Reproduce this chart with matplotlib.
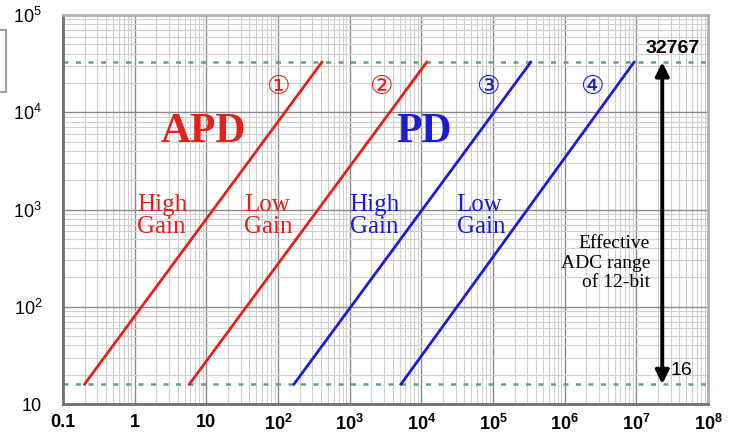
import matplotlib.pyplot as plt
from matplotlib.patches import Rectangle

# start / end of each gain range (input signal vs ADC count)
x_start = [0.2, 5.8, 167, 5200]
x_end = [410, 11900, 337000, 9.3e6]
y_low = 16
y_high = 32767
colors = ['#e32119', '#e32119', '#1c1cd2', '#1c1cd2']
circled = ['①', '②', '③', '④']
circ_x = [100, 2700, 85000, 2.4e6]
gain_labels = ['High\nGain', 'Low\nGain', 'High\nGain', 'Low\nGain']
gain_x = [1.07, 34, 1000, 31000]
arrow_x = 2.3e7

xticks = [0.1, 1, 10, 1e2, 1e3, 1e4, 1e5, 1e6, 1e7, 1e8]
xticklabels = ['0.1', '1', '10', r'$\mathbf{10^2}$', r'$\mathbf{10^3}$', r'$\mathbf{10^4}$',
               r'$\mathbf{10^5}$', r'$\mathbf{10^6}$', r'$\mathbf{10^7}$', r'$\mathbf{10^8}$']
yticks = [10, 1e2, 1e3, 1e4, 1e5]
yticklabels = ['10', '$10^2$', '$10^3$', '$10^4$', '$10^5$']

plt.rcParams['font.family'] = ['Liberation Sans', 'DejaVu Sans']
plt.rcParams['mathtext.fontset'] = 'custom'
plt.rcParams['mathtext.rm'] = 'Liberation Sans'
plt.rcParams['mathtext.bf'] = 'Liberation Sans:bold'
plt.rcParams['mathtext.default'] = 'regular'

fig = plt.figure(figsize=(7.3, 4.4), dpi=100)
ax = fig.add_axes([63/730, 1-404/440, 645/730, 389/440])
ax.set_xscale('log')
ax.set_yscale('log')
ax.set_xlim(0.1, 1e8)
ax.set_ylim(10, 1e5)

ax.grid(True, which='major', color='#8a8a8a', lw=1.0)
ax.grid(True, which='minor', color='#d0d0d0', lw=0.8)
ax.set_axisbelow(True)
for s in ['left', 'bottom']:
    ax.spines[s].set_color('#707070')
    ax.spines[s].set_linewidth(2)
for s in ['top', 'right']:
    ax.spines[s].set_color('#b0b0b0')
    ax.spines[s].set_linewidth(2)

ax.set_xticks(xticks)
ax.set_xticklabels(xticklabels, fontsize=13, fontweight='bold')
ax.set_yticks(yticks)
ax.set_yticklabels(yticklabels, fontsize=13)
ax.tick_params(which='both', length=0)
ax.tick_params(axis='x', pad=7)
ax.tick_params(axis='y', pad=15)

# ADC range limits
for yv in [y_low, y_high]:
    ax.axhline(yv, color='#5fa585', lw=1.8, ls=(0, (2, 3)), zorder=2)

for i in range(4):
    ax.plot([x_start[i], x_end[i]], [y_low, y_high], color=colors[i], lw=2, zorder=3)
    ax.text(circ_x[i], 18000, circled[i], color=colors[i], fontsize=19,
            ha='center', va='center', family=['DejaVu Sans', 'Noto Sans CJK JP'])
    ax.text(gain_x[i], 850, gain_labels[i], color=colors[i], fontsize=18,
            ha='left', va='center', family='Liberation Serif', linespacing=1.0)

ax.text(9.1, 6200, 'APD', color='#e32119', fontsize=30, fontweight='bold',
        ha='center', va='center', family='Liberation Serif')
ax.text(11000, 6200, 'PD', color='#1c1cd2', fontsize=30, fontweight='bold',
        ha='center', va='center', family='Liberation Serif')

ax.annotate('', xy=(arrow_x, y_high), xytext=(arrow_x, y_low),
            arrowprops=dict(arrowstyle='<|-|>', color='black', lw=2.8, mutation_scale=20,
                            shrinkA=0, shrinkB=0), zorder=4)
ax.text(3.2e7, 45000, '32767', fontsize=14, fontweight='bold', ha='center', va='center')
ax.text(arrow_x * 1.3, 22, '16', fontsize=14, ha='left', va='center')
ax.text(1.55e7, 280, 'Effective\nADC range\nof 12-bit', fontsize=14, ha='right', va='center',
        family='Liberation Serif', linespacing=1.2)

fig.patches.append(Rectangle((-0.01, 1-92/440), 6/730 + 0.01, 62/440, transform=fig.transFigure,
                             facecolor='white', edgecolor='#a0a0a0', lw=1.5))

fig.savefig('out.png', dpi=100)
